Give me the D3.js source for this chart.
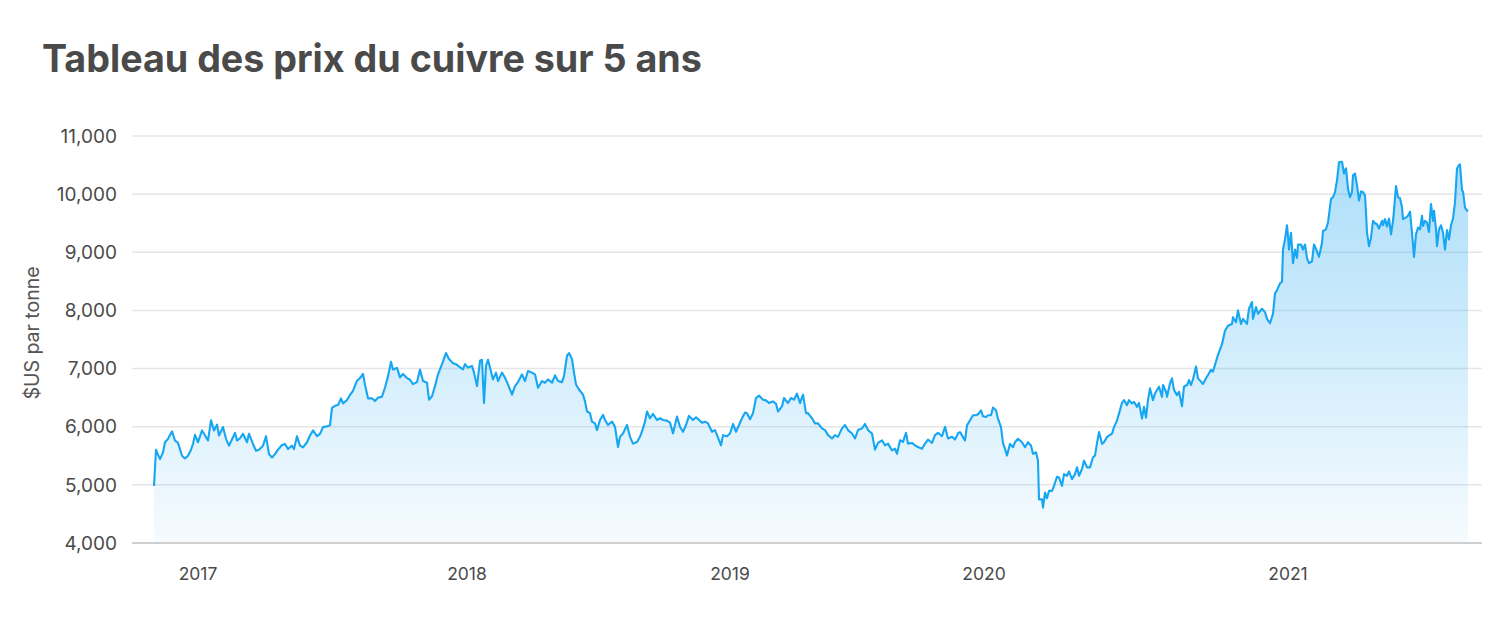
<!DOCTYPE html>
<html><head><meta charset="utf-8">
<script src="https://cdn.jsdelivr.net/npm/d3@7"></script>
<style>
html,body{margin:0;padding:0;background:#fff;}
svg{display:block;font-family:"Inter","Lato",sans-serif;}
</style></head>
<body><svg id="chart" width="1500" height="628"></svg>
<script>
// ---- data (observation index = trading-day index since start, price in US$/tonne) ----
const titleText = "Tableau des prix du cuivre sur 5 ans";
const yAxisTitle = "$US par tonne";
const yTicks = [4000, 5000, 6000, 7000, 8000, 9000, 10000, 11000];
const yearLabels = ["2017", "2018", "2019", "2020", "2021"];
const yearTickIndex = [44, 313, 576, 830, 1134];
const dayIndex = [0,2,3,6,9,11,14,18,21,24,28,31,34,37,39,41,44,48,51,54,57,60,63,65,69,72,75,79,81,83,86,89,93,95,99,102,105,109,112,115,118,121,124,128,131,134,138,140,143,146,149,153,156,159,163,166,169,173,176,178,181,184,187,189,193,196,199,203,206,209,211,214,218,221,224,228,231,234,237,239,243,246,249,253,256,259,263,266,
269,273,275,278,281,284,288,292,295,299,302,305,309,311,314,318,320,323,326,328,330,332,334,336,339,342,344,348,351,354,358,361,364,368,371,374,378,381,384,388,391,394,398,401,404,408,410,413,415,418,420,422,425,429,431,433,436,438,441,443,446,449,451,454,458,461,464,466,469,473,476,479,483,486,489,491,493,496,499,503,506,509,513,516,519,523,526,529,532,535,539,542,
548,551,554,558,561,564,567,569,573,576,579,582,585,588,591,593,596,599,602,605,609,612,615,619,622,624,628,630,634,637,640,643,646,649,652,654,658,661,664,668,671,674,678,681,684,688,691,694,698,701,704,708,711,714,718,721,724,728,731,734,738,741,743,746,749,752,754,758,761,764,768,771,774,778,781,784,788,791,794,798,801,804,
806,809,811,813,816,819,822,824,827,829,832,834,837,839,842,844,847,849,851,853,856,859,861,864,868,871,874,877,879,882,884,885,888,889,891,893,895,898,900,903,905,908,910,913,915,918,921,923,925,928,930,933,936,939,941,943,945,948,950,953,955,958,960,963,965,968,970,973,975,978,980,983,985,988,990,992,994,996,999,1001,1003,1005,1008,1009,1012,1013,1016,1018,1020,1023,1025,1028,1030,1033,1035,1037,1039,1042,1044,1047,1049,1052,1054,1057,1059,1062,1064,
1068,1071,1074,1078,1079,1082,1084,1087,1089,1093,1095,1098,1099,1102,1104,1108,1111,1113,1116,1119,1121,1123,1126,1128,1129,1131,1133,1134,1135,1137,1139,1141,1143,1144,1147,1149,1151,1153,1155,1158,1160,1163,1165,1168,1169,1172,1174,1177,1179,1181,1183,1185,1188,1190,1192,1194,1196,1198,1199,1201,1203,1205,1207,1209,1211,1212,1213,1215,1217,1219,1221,1223,1225,1228,1229,1231,1233,1235,1237,1239,1240,1242,1244,1246,1248,1249,1252,1254,1256,1258,1260,1262,1264,1266,1268,1269,1271,1273,1275,1277,1279,1280,1282,1283,1285,1287,1289,1291,1293,1295,1297,1299,1301,1303,1305,1306,1308,1309,1311,1313,1314];
const price = [4980,5605,5558,5442,5558,5733,5791,5919,5762,5721,5500,5453,5500,5605,5703,5860,5733,5936,5849,5762,6110,5936,6035,5849,5994,5791,5674,5820,5895,5762,5802,5878,5733,5878,5703,5587,5605,5674,5837,5529,5471,5529,5605,5686,5703,5616,5674,5616,5837,5674,5645,5733,5849,5936,5837,5878,5994,6006,6023,6326,6360,6372,6488,6401,6459,6547,6616,6791,6837,6907,6721,6488,6488,6442,6500,6517,6674,6866,7116,6983,7012,6849,6907,6837,6808,6733,6767,6983,
6785,6756,6465,6523,6698,6901,7076,7267,7163,7093,7076,7035,6988,7076,7017,7047,6930,6698,7134,7151,6407,7047,7151,7017,6814,6930,6785,6930,6843,6727,6552,6698,6767,6901,6785,6959,6930,6901,6669,6785,6756,6814,6756,6884,6785,6767,6872,7221,7267,7163,6930,6727,6640,6552,6436,6262,6233,6087,6058,5942,6116,6203,6116,6029,6087,6000,5651,5826,5884,6029,5826,5709,5738,5826,5971,6087,6262,6145,6221,6116,6145,6116,6105,6070,5884,6174,6000,5913,6029,6186,6116,6163,
6070,6087,6058,5913,5942,5814,5680,5855,5837,5884,6047,5913,6029,6145,6244,6233,6128,6233,6494,6535,6465,6453,6407,6436,6395,6262,6349,6494,6407,6494,6465,6570,6407,6552,6233,6233,6145,6058,6058,5971,5942,5855,5797,5855,5826,5971,6029,5942,5884,5797,5942,5971,6047,5942,5884,5605,5721,5767,5680,5709,5593,5622,5535,5767,5738,5895,5709,5721,5680,5651,5622,5709,5779,5721,5855,5895,5837,6000,5797,5826,5779,5884,
5908,5821,5763,6023,6110,6197,6197,6214,6283,6179,6168,6197,6197,6329,6283,6139,5994,5717,5619,5503,5705,5647,5734,5792,5734,5647,5734,5676,5532,5561,5416,4751,4751,4607,4867,4769,4896,4896,4983,5139,5127,4983,5185,5156,5231,5098,5185,5301,5156,5272,5416,5301,5301,5474,5503,5717,5908,5705,5734,5821,5850,5879,5994,6110,6225,6410,6457,6370,6457,6399,6428,6341,6410,6139,6341,6156,6457,6659,6457,6572,6630,6688,6514,6717,6601,6514,6746,6832,6630,6543,6601,6353,6688,6717,6803,6717,6815,7035,6832,6775,6734,6832,6890,6977,6948,7121,7237,
7419,7651,7738,7767,7884,7797,8000,7767,7855,7767,8029,8145,7855,8058,7942,8029,7971,7855,7779,7942,8291,8349,8465,8494,9047,9221,9465,9279,9047,9337,8814,9047,8901,9134,9134,9047,9134,8901,8814,8843,9134,9017,8919,9163,9366,9395,9512,9919,9948,10035,10238,10547,10558,10355,10442,10093,9948,10035,10326,10355,10151,9890,10047,10035,9977,9686,9337,9105,9250,9541,9500,9483,9407,9541,9465,9570,9442,9581,9308,9541,9715,10140,9948,9930,9773,9570,9599,9628,9698,9337,8919,9308,9424,9395,9628,9453,9541,9512,9349,9831,9541,9715,9395,9105,9395,9465,9337,9047,9384,9221,9465,9581,9860,10442,10500,10512,10064,10047,9773,9715,9733];

// ---- layout ----
const svg = d3.select("#chart");
const gridLeft = 132, gridRight = 1482;
const x = d3.scaleLinear().domain([0, 1314]).range([154, 1468]);
const y = d3.scaleLinear().domain([4000, 11000]).range([543, 136]);
const data = dayIndex.map((d, i) => ({ i: d, v: price[i] }));

// title
const title = svg.append("text").attr("x", 42).attr("y", 72)
  .attr("font-size", 34).attr("font-weight", 700).attr("fill", "#4a4a4a")
  .text(titleText);
const tw = title.node().getComputedTextLength();
title.attr("font-size", 34 * 660 / tw);

// gridlines
svg.append("g").selectAll("line").data(yTicks.filter(t => t > 4000)).join("line")
  .attr("x1", gridLeft).attr("x2", gridRight)
  .attr("y1", d => y(d)).attr("y2", d => y(d))
  .attr("stroke", "#e6e6e6").attr("stroke-width", 1.5);

// gradient
const defs = svg.append("defs");
const grad = defs.append("linearGradient").attr("id", "fillGrad")
  .attr("gradientUnits", "userSpaceOnUse")
  .attr("x1", 0).attr("x2", 0).attr("y1", y(10600)).attr("y2", y(4000));
grad.append("stop").attr("offset", "0%").attr("stop-color", "#1aa3ef").attr("stop-opacity", 0.36);
grad.append("stop").attr("offset", "100%").attr("stop-color", "#1aa3ef").attr("stop-opacity", 0.04);

const area = d3.area().x(d => x(d.i)).y0(y(4000)).y1(d => y(d.v));
svg.append("path").datum(data).attr("d", area).attr("fill", "url(#fillGrad)");

// baseline axis
svg.append("line").attr("x1", gridLeft).attr("x2", gridRight)
  .attr("y1", y(4000)).attr("y2", y(4000))
  .attr("stroke", "#cfcfcf").attr("stroke-width", 2);

const line = d3.line().x(d => x(d.i)).y(d => y(d.v));
svg.append("path").datum(data).attr("d", line)
  .attr("fill", "none").attr("stroke", "#16a6f2").attr("stroke-width", 2.1)
  .attr("stroke-linejoin", "round");

// y axis labels
const fmt = d3.format(",");
svg.append("g").selectAll("text").data(yTicks).join("text")
  .attr("x", 117).attr("y", d => y(d)).attr("dy", "0.35em")
  .attr("text-anchor", "end").attr("font-size", 19).attr("fill", "#4a4a4a")
  .text(d => fmt(d));

// x labels
svg.append("g").selectAll("text").data(yearLabels).join("text")
  .attr("x", (d, i) => x(yearTickIndex[i])).attr("y", 580)
  .attr("text-anchor", "middle").attr("font-size", 17.5).attr("fill", "#4a4a4a")
  .text(d => d);

// y axis title
svg.append("text").attr("transform", "translate(39,333) rotate(-90)")
  .attr("text-anchor", "middle").attr("font-size", 19.5).attr("fill", "#555")
  .text(yAxisTitle);
</script></body></html>
